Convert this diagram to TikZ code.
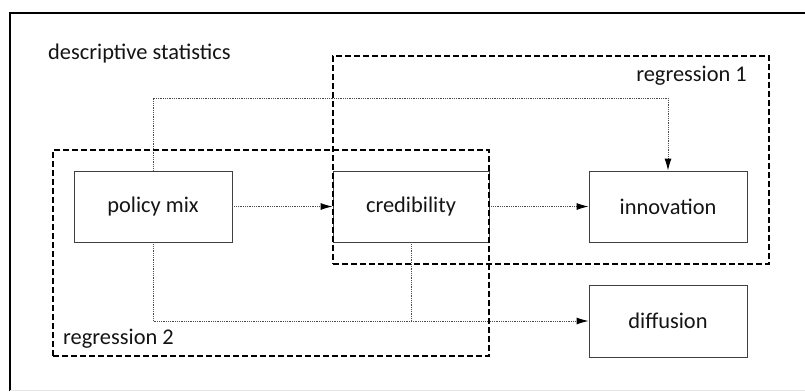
\documentclass[tikz,border=0pt]{standalone}
\usepackage{fontspec}
\setmainfont{Carlito}
\usetikzlibrary{arrows.meta,calc}
\begin{document}
\begin{tikzpicture}[x=1pt,y=-1pt,
  every node/.style={font=\fontsize{22.4}{26}\selectfont, text=black!92},
  box/.style={draw=black!75, line width=0.9pt, fill=none, minimum width=158pt, minimum height=71pt, inner sep=0pt},
  region/.style={draw=black, line width=1.6pt, dash pattern=on 6pt off 3pt, inner sep=0pt},
  conn/.style={draw=black!70, line width=0.9pt, dash pattern=on 0.9pt off 0.9pt},
  tip/.style={-{Latex[length=12pt,width=7pt,black]}},
  lbl/.style={inner sep=0pt}
]
\useasboundingbox (0,0) rectangle (805,391);
% outer frame
\draw[line width=2.6pt, black] (10,391) -- (10,13) -- (805,13);
\draw[line width=0.6pt, black!10] (10,390) -- (805,390);
% boxes
\node[box] (pm) at (153,206.5) {policy mix};
\node[box, minimum width=156pt] (cred) at (411,206.5) {credibility};
\node[box] (innov) at (668,206.5) {innovation};
\node[box, minimum height=72pt] (diff) at (668,321) {diffusion};
% helper coordinates
\coordinate (top) at (400,98);
% connectors
\draw[conn] (pm.north) |- (top);
\draw[conn, tip] (top) -| (innov.north);
\draw[conn, tip] (pm.east) -- (cred.west);
\draw[conn, tip] (cred.east) -- (innov.west);
\draw[conn, tip] (pm.south) |- (diff.west);
\draw[conn] (cred.south) -- (cred.south |- diff.west);
% regions
\node[region, minimum width=436pt, minimum height=208pt] (reg1) at (551,160) {};
\node[region, minimum width=436pt, minimum height=206pt] (reg2) at (271,253) {};
% labels
\node[lbl, anchor=west] (desc) at (48,54) {descriptive statistics};
\node[lbl, anchor=east] (r1) at (747,76) {regression 1};
\node[lbl, anchor=west] (r2) at (63,339) {regression 2};
\end{tikzpicture}
\end{document}
